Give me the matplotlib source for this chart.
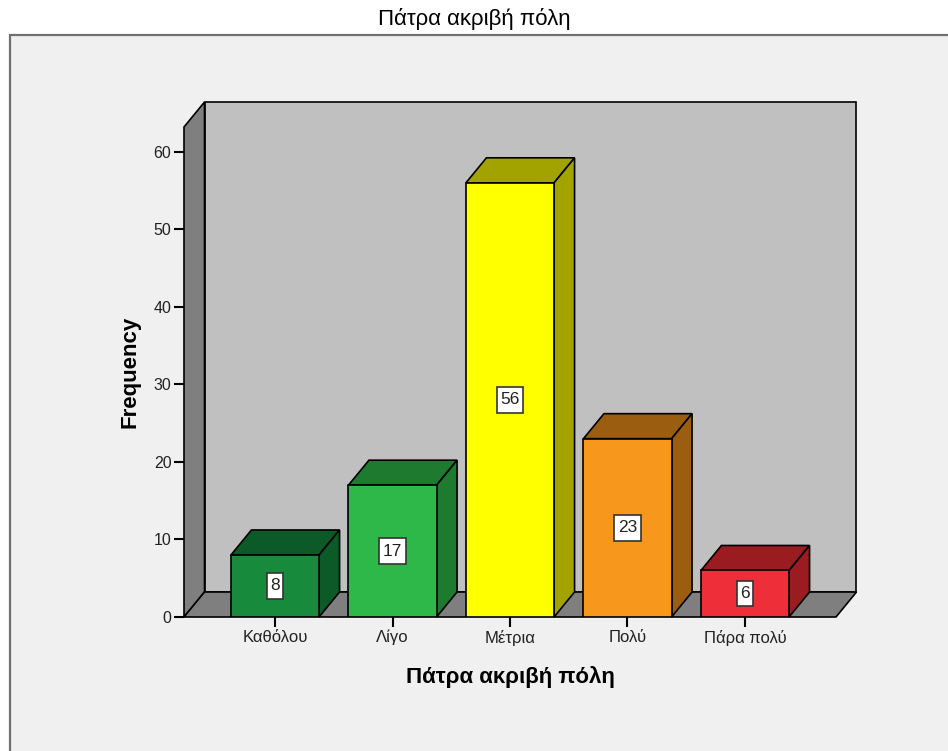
import matplotlib
matplotlib.use("Agg")
import matplotlib.pyplot as plt
from matplotlib.patches import Polygon, Rectangle
from matplotlib.path import Path

plt.rcParams['font.family'] = ['Liberation Sans', 'DejaVu Sans']

# Data
categories = ["Καθόλου", "Λίγο", "Μέτρια", "Πολύ", "Πάρα πολύ"]
counts = [8, 17, 56, 23, 6]
front_colors = ["#178a3c", "#2fb84a", "#ffff00", "#f7981d", "#ee2e38"]
side_colors = ["#0c5a27", "#1d7a2f", "#a3a300", "#9b5e10", "#9a1b20"]
y_ticks = [0, 10, 20, 30, 40, 50, 60]
title = "Πάτρα ακριβή πόλη"
x_title = "Πάτρα ακριβή πόλη"
y_title = "Frequency"

W, H, DPI = 948, 751, 100
fig = plt.figure(figsize=(W / DPI, H / DPI), dpi=DPI, facecolor="white")

# Outer chart frame
fig.patches.append(Rectangle((10 / W, -0.05), 1.2, (H - 35) / H + 0.05,
                             transform=fig.transFigure, facecolor="#f0f0f0",
                             edgecolor="#707070", lw=1.6, zorder=-10))
fig.text(0.5, 1 - 19 / H, title, ha="center", va="center", fontsize=16)

# Front plane of the plot box
ax_left, ax_right, ax_bottom, ax_top = 184, 836, 617, 127
ax = fig.add_axes([ax_left / W, (H - ax_bottom) / H,
                   (ax_right - ax_left) / W, (ax_bottom - ax_top) / H])
ax.set_facecolor("none")
for s in ax.spines.values():
    s.set_visible(False)

xl, xr = -0.7745, 4.7745
yb, yt = 0.0, 63.2
ax.set_xlim(xl, xr)
ax.set_ylim(yb, yt)

# depth of the 3D effect converted to data units
px_x = (ax_right - ax_left) / (xr - xl)
px_y = (ax_bottom - ax_top) / (yt - yb)
ddx = 20.5 / px_x
ddy = 25.0 / px_y

edge = dict(edgecolor="black", lw=1.2, clip_on=False, joinstyle="miter")

# Back wall, left wall and floor
ax.add_patch(Polygon([(xl + ddx, yb + ddy), (xr + ddx, yb + ddy),
                      (xr + ddx, yt + ddy), (xl + ddx, yt + ddy)],
                     facecolor="#c0c0c0", zorder=1, **edge))
ax.add_patch(Polygon([(xl, yb), (xl, yt), (xl + ddx, yt + ddy),
                      (xl + ddx, yb + ddy)],
                     facecolor="#7f7f7f", zorder=2, **edge))
ax.add_patch(Polygon([(xl, yb), (xr, yb), (xr + ddx, yb + ddy),
                      (xl + ddx, yb + ddy)],
                     facecolor="#7f7f7f", zorder=2, **edge))


def label_box(x0, y0, width, height, mutation_size):
    """Rectangular box with narrow side padding and tall top/bottom padding."""
    px, py = 0.2 * mutation_size, 0.3 * mutation_size
    x0, y0 = x0 - px, y0 - py
    x1, y1 = x0 + width + 2 * px, y0 + height + 2 * py
    return Path([(x0, y0), (x1, y0), (x1, y1), (x0, y1), (x0, y0)],
                closed=True)


# Bars: front face via ax.bar, top and side faces as polygons
bw = 0.75
xs = list(range(len(categories)))
ax.bar(xs, counts, width=bw, color=front_colors, edgecolor="black",
       linewidth=1.2, zorder=4)
for x, v, sc in zip(xs, counts, side_colors):
    x0, x1 = x - bw / 2, x + bw / 2
    ax.add_patch(Polygon([(x0, v), (x1, v), (x1 + ddx, v + ddy),
                          (x0 + ddx, v + ddy)], facecolor=sc, zorder=3, **edge))
    ax.add_patch(Polygon([(x1, 0), (x1 + ddx, ddy), (x1 + ddx, v + ddy),
                          (x1, v)], facecolor=sc, zorder=3, **edge))
    ax.text(x, v / 2, str(v), ha="center", va="center", fontsize=12.5,
            color="#222222", zorder=6,
            bbox=dict(boxstyle=label_box, facecolor="white",
                      edgecolor="#333333", lw=1.2))

ax.set_xticks(xs)
ax.set_xticklabels(categories, fontsize=12, color="#222222")
ax.set_yticks(y_ticks)
ax.set_yticklabels([str(t) for t in y_ticks], fontsize=11.5, color="#222222")
ax.tick_params(axis="both", length=7, width=1.5, color="black", pad=2)

ax.set_xlabel(x_title, fontsize=16, fontweight="bold")
ax.set_ylabel(y_title, fontsize=16, fontweight="bold")
ax.xaxis.label.set_va("center")
ax.yaxis.label.set_va("center")
ax.xaxis.set_label_coords(0.5 + (510 - 510) / 652, -(677 - 617) / 490)
ax.yaxis.set_label_coords((130 - 184) / 652, (617 - 372) / 490)

fig.savefig("out.png", dpi=DPI, facecolor=fig.get_facecolor())
